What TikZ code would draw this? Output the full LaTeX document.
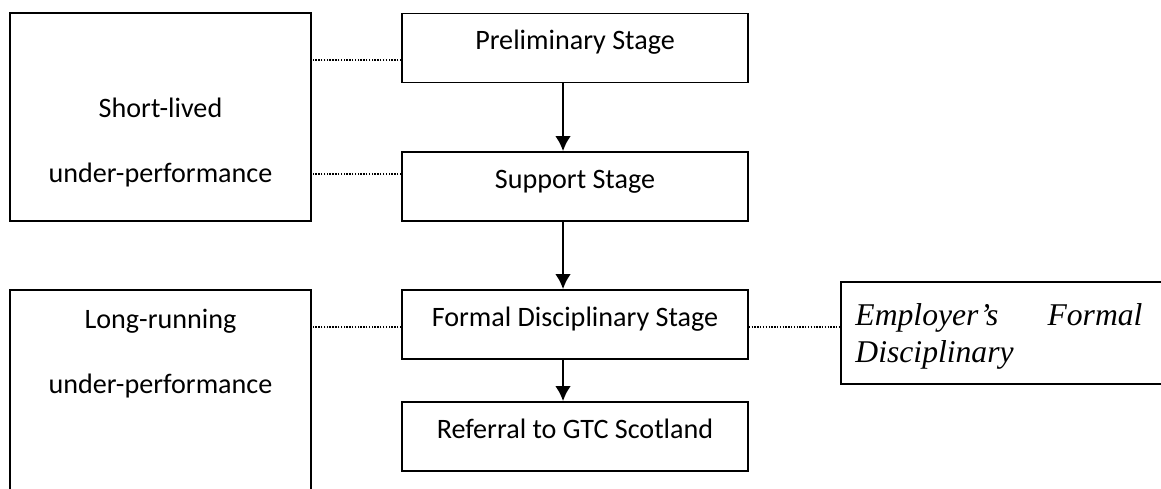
\documentclass[tikz,border=0pt]{standalone}
\usepackage{fontspec}
\setmainfont{Carlito}
\newfontfamily\timesfont{Liberation Serif}
\usetikzlibrary{arrows.meta}

\begin{document}
\begin{tikzpicture}[x=0.15mm, y=-0.15mm,
  stage_box/.style={draw, line width=0.7pt, minimum width=51.9mm, minimum height=10.35mm,
    inner sep=0pt, text height=8.5pt, text depth=7.2pt, font=\fontsize{12}{14}\selectfont},
  side_box/.style={draw, line width=0.7pt, minimum width=45.15mm, inner sep=0pt},
  side_text/.style={anchor=base, inner sep=0pt, font=\fontsize{12}{14}\selectfont},
  link/.style={line width=0.6pt, dash pattern=on 0.6pt off 0.6pt},
  flow/.style={->, line width=1.1pt},
  >={Latex[length=2.25mm, width=2.35mm]}]

\useasboundingbox (0,0) rectangle (1161,488);

% the stages
\node[stage_box] (prelim) at (575,48) {Preliminary Stage};
\node[stage_box] (support) at (575,186.5) {Support Stage};
\node[stage_box] (formal) at (575,324.5) {Formal Disciplinary Stage};
\node[stage_box] (referral) at (575,436.5) {Referral to GTC Scotland};

\draw[flow] ([xshift=-1.8mm]prelim.south) -- ([xshift=-1.8mm]support.north);
\draw[flow] ([xshift=-1.8mm]support.south) -- ([xshift=-1.8mm]formal.north);
\draw[flow] ([xshift=-1.8mm]formal.south) -- ([xshift=-1.8mm]referral.north);


% short-lived box
\node[side_box, minimum height=31.2mm] (short) at (160.5,117) {};
\node[side_text] (short_a) at (160.5,117) {Short-lived};
\node[side_text] (short_b) at (160.5,182) {under-performance};

\draw[link] ([yshift=-1.8mm]prelim.west) -- ([yshift=-1.8mm]prelim.west -| short.east);
\draw[link] ([yshift=1.9mm]support.west) -- ([yshift=1.9mm]support.west -| short.east);


% long-running box
\node[side_box, minimum height=37.5mm] (long) at (160.5,415) {};
\node[side_text] (long_a) at (160.5,328) {Long-running};
\node[side_text] (long_b) at (160.5,393) {under-performance};

\draw[link] ([yshift=-0.4mm]formal.west) -- ([yshift=-0.4mm]formal.west -| long.east);


% employer box
\node[draw, line width=0.7pt, minimum width=50.85mm, minimum height=15.3mm, inner sep=0pt] (employer) at (1010.5,333) {};
\node[anchor=north west, inner sep=0pt, text width=43.05mm, align=left,
  font=\timesfont\itshape\fontsize{13.5}{15.7}\selectfont] (employer_txt) at (855,303)
  {Employer’s\hfill Formal\\Disciplinary};

\draw[link] ([yshift=-0.4mm]formal.east) -- ([yshift=-0.4mm]formal.east -| employer.west);

\end{tikzpicture}
\end{document}
